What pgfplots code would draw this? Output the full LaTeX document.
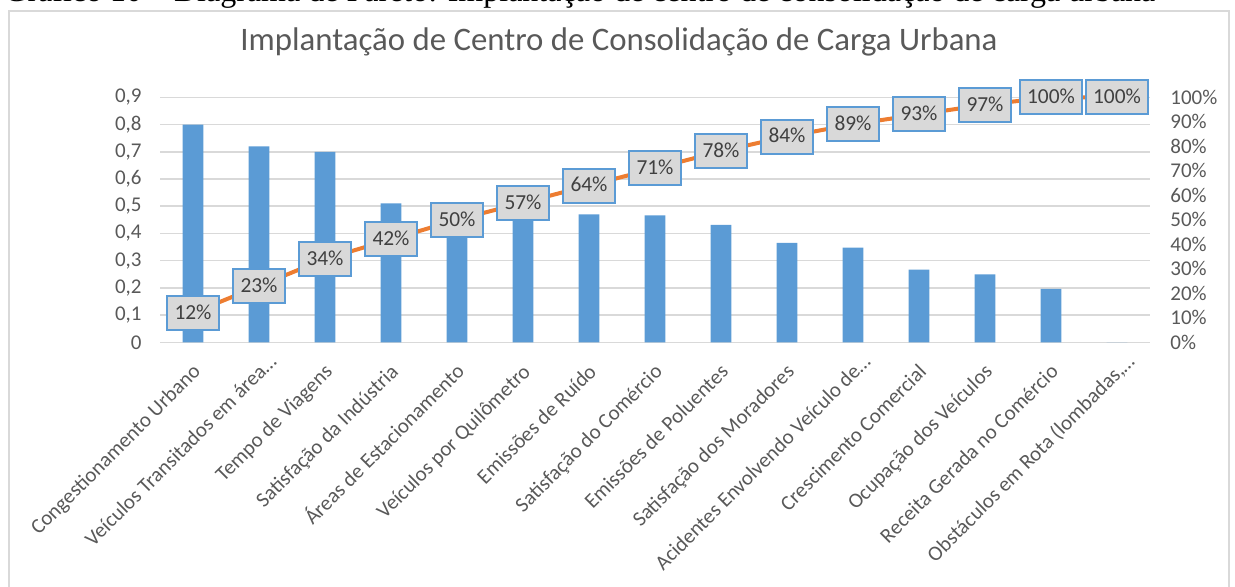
\documentclass[border=0pt]{standalone}
\usepackage{fontspec}
\setmainfont{Carlito}
\newfontfamily\capfont{Liberation Serif}
\usepackage{pgfplots}
\pgfplotsset{compat=1.18}

\definecolor{barblue}{HTML}{5B9BD5}
\definecolor{lineorange}{HTML}{ED7D31}
\definecolor{gridgray}{HTML}{D9D9D9}
\definecolor{txtgray}{HTML}{595959}
\definecolor{lblgray}{HTML}{404040}
\definecolor{boxfill}{HTML}{D9D9D9}
\definecolor{framegray}{HTML}{D9D9D9}

% shared frame of both axes (1px = 0.5pt)
\pgfplotsset{
  pareto/.style={
    at={(80pt,-171.15pt)}, anchor=south west,
    scale only axis, width=495pt, height=122.5pt,
    xmin=-0.5, xmax=14.5, ymin=0,
    major tick length=0pt,
    axis line style={draw=none},
    tick label style={font=\fontsize{10.5}{12}\selectfont, text=txtgray},
    /pgf/number format/assume math mode=true,
  },
}

\begin{document}
\begin{tikzpicture}
% caption of the document, only its lower edge is on the page
\node[anchor=base west, inner sep=0pt, font=\capfont\fontsize{16}{18}\selectfont]
  at (2pt,-0.5pt) {Gráfico 10 – Diagrama de Pareto: Implantação de centro de consolidação de carga urbana};
% chart area border
\draw[framegray, line width=1pt] (4.5pt,-320pt) -- (4.5pt,-5.5pt) -- (614.5pt,-5.5pt) -- (614.5pt,-320pt);
\node[anchor=base, inner sep=0pt, font=\fontsize{16.4}{18}\selectfont, text=txtgray]
  at (309.5pt,-25pt) {Implantação de Centro de Consolidação de Carga Urbana};

% bars, left axis
\begin{axis}[pareto, ymax=0.9,
  ytick={0,0.1,0.2,0.3,0.4,0.5,0.6,0.7,0.8,0.9},
  yticklabel style={anchor=east, inner sep=0pt, xshift=-9pt,
    /pgf/number format/.cd, fixed, precision=1, use comma},
  ymajorgrids, grid style={gridgray, line width=0.75pt},
  xtick={0,...,14},
  xticklabels={Congestionamento Urbano, Veículos Transitados em área\rlap{…}, Tempo de Viagens,
    Satisfação da Indústria, Áreas de Estacionamento, Veículos por Quilômetro, Emissões de Ruído,
    Satisfação do Comércio, Emissões de Poluentes, Satisfação dos Moradores,
    Acidentes Envolvendo Veículo de\rlap{…}, Crescimento Comercial, Ocupação dos Veículos,
    Receita Gerada no Comércio, {Obstáculos em Rota (lombadas,\rlap{…}}},
  xticklabel style={xshift=2.6pt, yshift=-13.5pt, rotate=45, anchor=east, inner sep=0pt,
    text height=0.72em, text depth=0.22em},
]
\addplot[ybar, bar width=10.35pt, fill=barblue, draw=none] coordinates {
  (0,0.80) (1,0.72) (2,0.70) (3,0.51) (4,0.50) (5,0.47) (6,0.47)
  (7,0.466) (8,0.431) (9,0.365) (10,0.348) (11,0.267) (12,0.25) (13,0.196) (14,0)
};
\end{axis}

% cumulative percentage, right axis
\begin{axis}[pareto, ymax=1, hide x axis, axis y line*=right, clip=false,
  ytick={0,0.1,0.2,0.3,0.4,0.5,0.6,0.7,0.8,0.9,1},
  yticklabels={0\%,10\%,20\%,30\%,40\%,50\%,60\%,70\%,80\%,90\%,100\%},
  yticklabel style={anchor=west, inner sep=0pt, xshift=10pt},
]
\addplot[lineorange, line width=2pt, mark=none,
  nodes near coords, point meta=explicit symbolic,
  every node near coord/.append style={anchor=center, fill=boxfill, draw=barblue,
    line width=1pt, text=lblgray, font=\fontsize{10.7}{12}\selectfont,
    inner xsep=3.6pt, inner ysep=0pt, minimum height=17pt, text height=0.64em, text depth=0pt},
] coordinates {
  (0,0.12)[12\%] (1,0.23)[23\%] (2,0.34)[34\%] (3,0.42)[42\%] (4,0.50)[50\%]
  (5,0.57)[57\%] (6,0.64)[64\%] (7,0.71)[71\%] (8,0.78)[78\%] (9,0.84)[84\%]
  (10,0.89)[89\%] (11,0.93)[93\%] (12,0.97)[97\%] (13,1.00)[100\%] (14,1.00)[100\%]
};
\end{axis}

\pgfresetboundingbox
\path[use as bounding box] (0,0) rectangle (617.5pt,-293pt);
\end{tikzpicture}
\end{document}
